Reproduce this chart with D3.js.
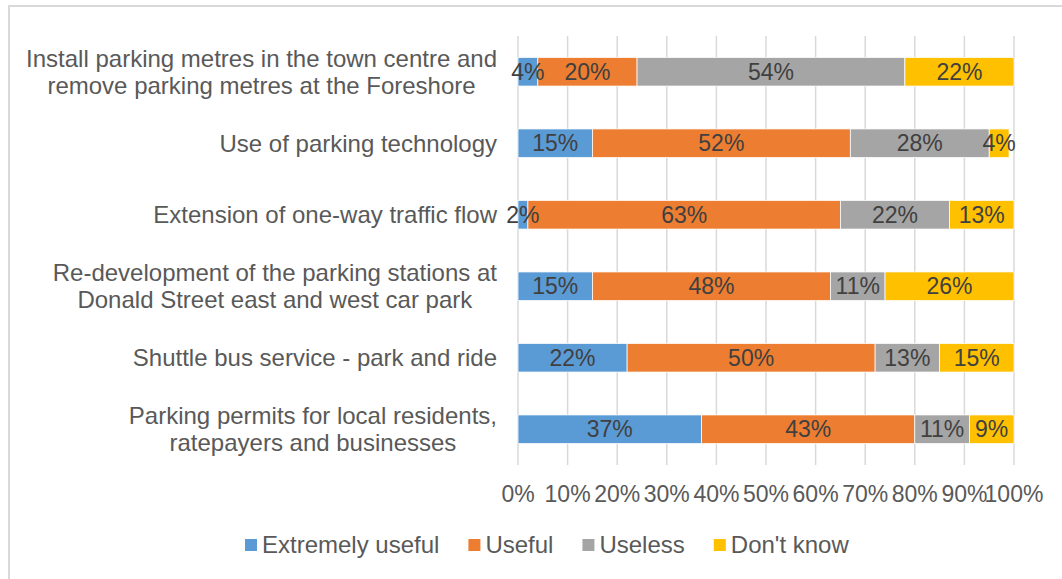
<!DOCTYPE html>
<html lang="en">
<head>
    <meta charset="UTF-8">
    <title>Parking options</title>
    <script src="https://d3js.org/d3.v7.min.js"></script>
    <style>
        body {
            margin: 0;
            background: #fff;
            font-family: "Liberation Sans", Arial, sans-serif;
        }
        svg {
            display: block;
        }
        text {
            font-size: 23px;
            fill: #595959;
        }
        .cat, .leg {
            font-size: 24px;
        }
    </style>
</head>
<body>

    <div id="container"></div>

    <script>

        // categories (top to bottom), each split into lines
        const categories = [
            ['Install parking metres in the town centre and', 'remove parking metres at the Foreshore'],
            ['Use of parking technology'],
            ['Extension of one-way traffic flow'],
            ['Re-development of the parking stations at', 'Donald Street east and west car park'],
            ['Shuttle bus service - park and ride'],
            ['Parking permits for local residents,', 'ratepayers and businesses']
        ];

        const seriesNames = ['Extremely useful', 'Useful', 'Useless', "Don't know"];
        const seriesColors = ['#5B9BD5', '#ED7D31', '#A5A5A5', '#FFC000'];

        // percent values per series, in category order
        const extremelyUseful = [4, 15, 2, 15, 22, 37];
        const useful = [20, 52, 63, 48, 50, 43];
        const useless = [54, 28, 22, 11, 13, 11];
        const dontKnow = [22, 4, 13, 26, 15, 9];

        const tickValues = [0, 10, 20, 30, 40, 50, 60, 70, 80, 90, 100];

        const width = 1062;
        const height = 579;

        const svg = d3.select('#container').append('svg')
            .attr('width', width)
            .attr('height', height);

        // chart border
        svg.append('rect')
            .attr('x', 9)
            .attr('y', 6)
            .attr('width', 1100)
            .attr('height', 700)
            .attr('fill', 'none')
            .attr('stroke', '#d9d9d9')
            .attr('stroke-width', 2);

        const plotLeft = 518, plotRight = 1014, plotTop = 36, plotBottom = 465;

        const x = d3.scaleLinear()
            .domain([0, 100])
            .range([plotLeft, plotRight]);

        const y = d3.scaleBand()
            .domain(d3.range(categories.length))
            .range([plotTop, plotBottom])
            .paddingInner(0.6)
            .paddingOuter(0.3);

        // build table for stacking
        const table = categories.map((c, i) => ({
            idx: i,
            s0: extremelyUseful[i],
            s1: useful[i],
            s2: useless[i],
            s3: dontKnow[i]
        }));

        const stack = d3.stack().keys(['s0', 's1', 's2', 's3']);
        const stacked = stack(table);

        // gridlines
        svg.append('g')
            .selectAll('line')
            .data(tickValues)
            .enter()
            .append('line')
                .attr('x1', d => x(d))
                .attr('x2', d => x(d))
                .attr('y1', plotTop)
                .attr('y2', plotBottom)
                .attr('stroke', '#d9d9d9')
                .attr('stroke-width', 1.5);

        // x tick labels
        svg.append('g')
            .selectAll('text')
            .data(tickValues)
            .enter()
            .append('text')
                .attr('x', d => x(d))
                .attr('y', 502)
                .attr('text-anchor', 'middle')
                .text(d => d + '%');

        // bars
        const layers = svg.append('g')
            .selectAll('g')
            .data(stacked)
            .enter()
            .append('g')
                .attr('fill', (d, i) => seriesColors[i]);

        layers.selectAll('rect')
            .data(d => d)
            .enter()
            .append('rect')
                .attr('x', d => x(d[0]))
                .attr('y', d => y(d.data.idx))
                .attr('width', d => x(d[1]) - x(d[0]))
                .attr('height', y.bandwidth())
                .attr('stroke', '#ffffff')
                .attr('stroke-width', 0.75);

        // data labels
        const labelGroup = svg.append('g');
        stacked.forEach(layer => {
            labelGroup.selectAll(null)
                .data(layer)
                .enter()
                .append('text')
                    .attr('x', d => x((d[0] + d[1]) / 2))
                    .attr('y', d => y(d.data.idx) + y.bandwidth() / 2)
                    .attr('dy', '0.35em')
                    .attr('text-anchor', 'middle')
                    .style('fill', '#404040')
                    .text(d => (d[1] - d[0]) + '%');
        });

        // category labels: block right-aligned, lines centered within block
        const catRight = 497;
        const lineHeight = 27;
        categories.forEach((lines, i) => {
            const g = svg.append('g');
            const cy = y(i) + y.bandwidth() / 2;
            const texts = lines.map((line, j) => g.append('text')
                .attr('class', 'cat')
                .attr('y', cy + (j - (lines.length - 1) / 2) * lineHeight)
                .attr('dy', '0.35em')
                .attr('text-anchor', 'middle')
                .text(line));
            const maxW = d3.max(texts, t => t.node().getComputedTextLength());
            texts.forEach(t => t.attr('x', catRight - maxW / 2));
        });

        // legend
        const legend = svg.append('g');
        let lx = 245;
        const ly = 545;
        seriesNames.forEach((name, i) => {
            legend.append('rect')
                .attr('x', lx)
                .attr('y', ly - 6)
                .attr('width', 12)
                .attr('height', 12)
                .attr('fill', seriesColors[i]);
            const t = legend.append('text')
                .attr('class', 'leg')
                .attr('x', lx + 17)
                .attr('y', ly)
                .attr('dy', '0.35em')
                .text(name);
            lx += 17 + t.node().getComputedTextLength() + 29;
        });

    </script>

</body>
</html>
